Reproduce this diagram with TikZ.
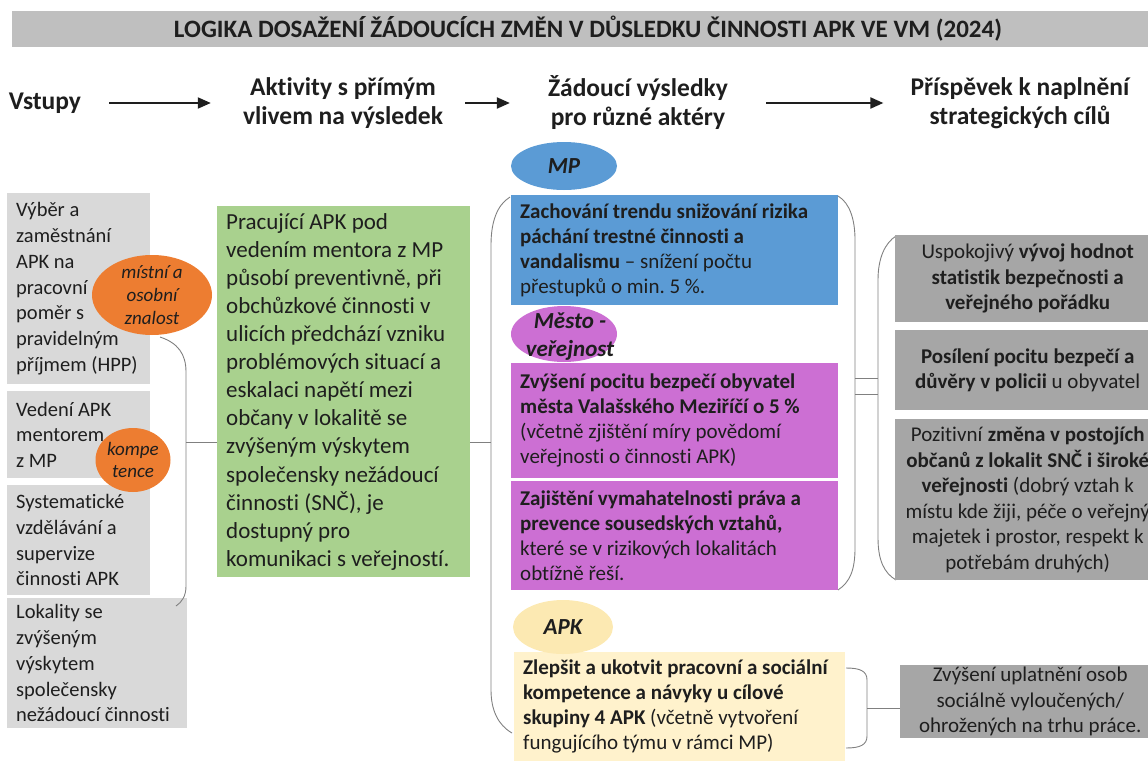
\documentclass[tikz,border=0pt]{standalone}
\usepackage{fontspec}
\setmainfont{Carlito}[Ligatures=NoCommon]
\usetikzlibrary{arrows.meta,shapes.geometric}
\definecolor{titlegray}{HTML}{BFBFBF}
\definecolor{ingray}{HTML}{D9D9D9}
\definecolor{actgreen}{HTML}{A9D18E}
\definecolor{knorange}{HTML}{ED7D31}
\definecolor{mpblue}{HTML}{5B9BD5}
\definecolor{citypurple}{HTML}{CC6FD3}
\definecolor{apkellipse}{HTML}{FCE9B2}
\definecolor{apkbox}{HTML}{FFF2CC}
\definecolor{goalgray}{HTML}{A6A6A6}
\definecolor{linegray}{HTML}{808080}
\definecolor{txt}{HTML}{1E1E1E}
\frenchspacing
\begin{document}
\begin{tikzpicture}[x=1pt,y=-1pt,
  box/.style={draw=none, anchor=north west, inner sep=0pt},
  boxtext/.style={anchor=west, align=left, inner sep=0pt, text=txt},
  intext/.style={boxtext, font=\fontsize{20.5}{25.8}\selectfont},
  acttext/.style={boxtext, font=\fontsize{23}{28.1}\selectfont},
  restext/.style={boxtext, font=\fontsize{21}{25}\selectfont},
  goaltext/.style={align=center, inner sep=0pt, text=txt, font=\fontsize{21}{25.5}\selectfont},
  oval/.style={ellipse, draw=none, inner sep=0pt},
  ovaltext/.style={align=center, inner sep=0pt, text=txt},
  hdr/.style={align=center, inner sep=0pt, text=txt, font=\bfseries\fontsize{25.5}{29}\selectfont},
  harrow/.style={line width=2pt, draw=txt, -{Triangle[length=13pt,width=11pt]}},
  brace/.style={draw=linegray, line width=0.9pt},
]
\useasboundingbox (0,0) rectangle (1148,760);

% title
\node[box, fill=titlegray, minimum width=1150pt, minimum height=36pt] (tbar) at (12,11) {};
\node[inner sep=0pt, text=txt, font=\bfseries\fontsize{25}{30}\selectfont] (title) at (588,29) {LOGIKA DOSAŽENÍ ŽÁDOUCÍCH ZMĚN V DŮSLEDKU ČINNOSTI APK VE VM (2024)};

% headers
\node[hdr] (h1) at (45,103) {Vstupy};
\node[hdr] (h2) at (343,103) {Aktivity s přímým\\vlivem na výsledek};
\node[hdr] (h3) at (638,103) {Žádoucí výsledky\\pro různé aktéry};
\node[hdr] (h4) at (1020,103) {Příspěvek k naplnění\\strategických cílů};
\draw[harrow, shorten <=28pt, shorten >=32pt] (h1.east) -- (h1.east -| h2.west);
\draw[harrow, shorten <=22pt, shorten >=38pt] (h2.east |- h1.east) -- (h1.east -| h3.west);
\draw[harrow, shorten <=38pt, shorten >=27pt] (h3.east |- h1.east) -- (h1.east -| h4.west);

% inputs
\node[box, fill=ingray, minimum width=143pt, minimum height=191pt] (in1) at (7,193) {};
\node[box, fill=ingray, minimum width=143pt, minimum height=87pt] (in2) at (7,391) {};
\node[box, fill=ingray, minimum width=143pt, minimum height=110pt] (in3) at (7,485) {};
\node[box, fill=ingray, minimum width=180pt, minimum height=130pt] (in4) at (7,598) {};
\node[intext] at ([xshift=9pt]in1.west) {Výběr a\\zaměstnání\\APK na\\pracovní\\poměr s\\pravidelným\\příjmem (HPP)};
\node[intext] at ([xshift=9pt]in2.west) {Vedení APK\\mentorem\\z MP};
\node[intext] at ([xshift=9pt]in3.west) {Systematické\\vzdělávání a\\supervize\\činnosti APK};
\node[intext] at ([xshift=9pt]in4.west) {Lokality se\\zvýšeným\\výskytem\\společensky\\nežádoucí činnosti};

\node[oval, fill=knorange, minimum width=120pt, minimum height=80pt] (k1) at (152,295) {};
\node[ovaltext, font=\itshape\fontsize{19}{23}\selectfont] at (k1) {místní a\\osobní\\znalost};
\node[oval, fill=knorange, minimum width=75pt, minimum height=64pt] (k2) at (133,460) {};
\node[ovaltext, font=\itshape\fontsize{19}{22}\selectfont] at (k2) {kompe\\tence};

% activity
\node[box, fill=actgreen, minimum width=253pt, minimum height=371pt] (act) at (217,206) {};
\node[acttext] at ([xshift=9pt]act.west) {Pracující APK pod\\vedením mentora z MP\\působí preventivně, při\\obchůzkové činnosti v\\ulicích předchází vzniku\\problémových situací a\\eskalaci napětí mezi\\občany v lokalitě se\\zvýšeným výskytem\\společensky nežádoucí\\činnosti (SNČ), je\\dostupný pro\\komunikaci s veřejností.};

% input brace
\draw[brace] (160,337) .. controls (178,343) and (186,354) .. (186,372) -- (186,586) .. controls (186,596) and (182,602) .. (176,606);
\coordinate (inb) at (186,442);
\draw[brace] (inb) -- (inb -| act.west);

% results
\node[box, fill=mpblue, minimum width=327pt, minimum height=110pt] (mpb) at (511,195) {};
\node[restext] at ([xshift=9pt]mpb.west) {\textbf{Zachování trendu snižování rizika}\\\textbf{páchání trestné činnosti a}\\\textbf{vandalismu} – snížení počtu\\přestupků o min. 5~\%.};
\node[box, fill=citypurple, minimum width=327pt, minimum height=115pt] (cb1) at (511,363) {};
\node[restext] at ([xshift=9pt]cb1.west) {\textbf{Zvýšení pocitu bezpečí obyvatel}\\\textbf{města Valašského Meziříčí o 5~\%}\\(včetně zjištění míry povědomí\\veřejnosti o činnosti APK)};
\node[box, fill=citypurple, minimum width=327pt, minimum height=109pt] (cb2) at (511,481) {};
\node[restext] at ([xshift=9pt]cb2.west) {\textbf{Zajištění vymahatelnosti práva a}\\\textbf{prevence sousedských vztahů,}\\které se v rizikových lokalitách\\obtížně řeší.};
\node[box, fill=apkbox, minimum width=331pt, minimum height=118pt] (apkb) at (514,652) {};
\node[restext, anchor=north west] at (523,660) {\textbf{Zlepšit a ukotvit pracovní a sociální}\\\textbf{kompetence a návyky u cílové}\\\textbf{skupiny 4 APK} (včetně vytvoření\\fungujícího týmu v rámci MP)};

\node[oval, fill=mpblue, minimum width=106pt, minimum height=48pt] (emp) at (564,166) {};
\node[ovaltext, font=\bfseries\itshape\fontsize{23}{28}\selectfont] at (emp) {MP};
\node[oval, fill=citypurple, minimum width=106pt, minimum height=56pt] (ecity) at (564,334) {};
\node[ovaltext, font=\bfseries\itshape\fontsize{23}{28}\selectfont] at (570,337) {Město -\\veřejnost};
\node[oval, fill=apkellipse, minimum width=100pt, minimum height=54pt] (eapk) at (563,627) {};
\node[ovaltext, font=\bfseries\itshape\fontsize{23}{28}\selectfont] at (eapk) {APK};

% middle brace
\draw[brace] (510,197) .. controls (497,205) and (491,222) .. (491,245) -- (491,690) .. controls (491,710) and (498,725) .. (512,733);
\coordinate (midb) at (491,442);
\draw[brace] (act.east |- midb) -- (midb);

% right braces
\draw[brace] (838,196) .. controls (850,203) and (855,220) .. (855,240) -- (855,548) .. controls (855,570) and (850,582) .. (838,590);
\draw[brace] (896,236) .. controls (885,243) and (878,258) .. (878,280) -- (878,538) .. controls (878,560) and (884,573) .. (896,580);
\coordinate (ra1) at (855,378);
\coordinate (ra2) at (855,394);
\coordinate (rb1) at (878,378);
\coordinate (rb2) at (878,394);
\draw[brace] (ra1) -- (rb1);
\draw[brace] (ra2) -- (rb2);

% goals
\node[box, fill=goalgray, minimum width=265pt, minimum height=87pt] (g1) at (895,235) {};
\node[goaltext] at (g1) {Uspokojivý \textbf{vývoj hodnot}\\\textbf{statistik bezpečnosti a}\\\textbf{veřejného pořádku}};
\node[box, fill=goalgray, minimum width=265pt, minimum height=80pt] (g2) at (895,330) {};
\node[goaltext] at (g2) {\textbf{Posílení pocitu bezpečí a}\\\textbf{důvěry v policii} u obyvatel};
\node[box, fill=goalgray, minimum width=265pt, minimum height=161pt] (g3) at (895,419) {};
\node[goaltext] at (g3) {Pozitivní \textbf{změna v postojích}\\\textbf{občanů z lokalit SNČ i široké}\\\textbf{veřejnosti} (dobrý vztah k\\místu kde žiji, péče o veřejný\\majetek i prostor, respekt k\\potřebám druhých)};
\node[box, fill=goalgray, minimum width=260pt, minimum height=73pt] (g4) at (900,665) {};
\node[goaltext] at (g4) {Zvýšení uplatnění osob\\sociálně vyloučených/\\ohrožených na trhu práce.};

% apk brace
\draw[brace] (846,668) .. controls (860,668) and (867,671) .. (867,680) -- (867,736) .. controls (867,745) and (860,748) .. (846,748);
\coordinate (apkr) at (867,708);
\draw[brace] (apkr) -- (apkr -| g4.west);
\end{tikzpicture}
\end{document}
